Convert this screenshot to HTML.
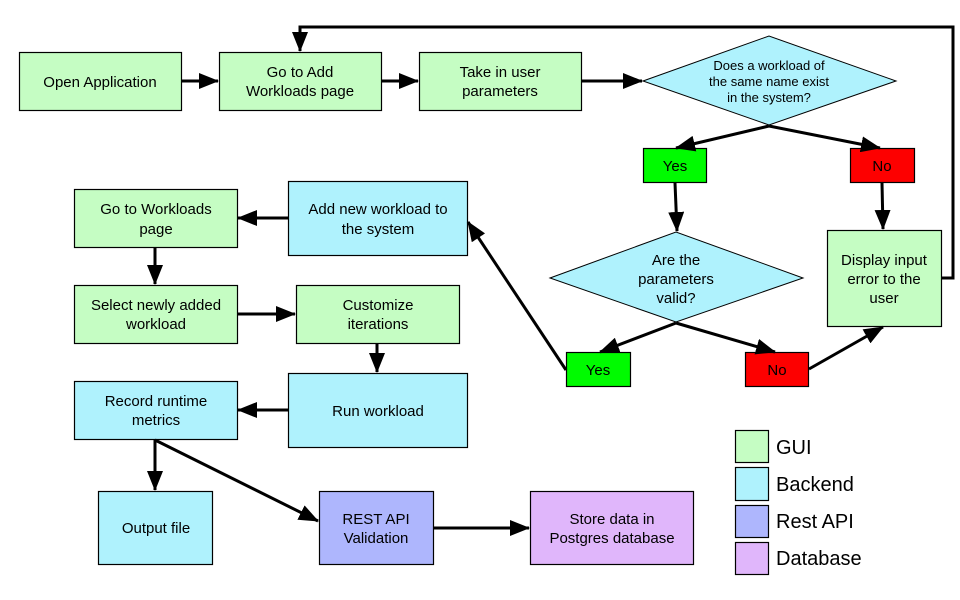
<!DOCTYPE html>
<html><head><meta charset="utf-8"><style>
html,body{margin:0;padding:0;background:#fff;width:960px;height:600px;overflow:hidden}
svg text{font-family:"Liberation Sans",Arial,sans-serif;fill:#000}
</style></head><body>
<svg width="960" height="600" viewBox="0 0 960 600" xmlns="http://www.w3.org/2000/svg">
<defs>
<marker id="b" markerWidth="20" markerHeight="16" refX="19" refY="8" orient="auto" markerUnits="userSpaceOnUse" viewBox="0 0 20 16">
<path d="M0,0 L20,8 L0,16 z" fill="#000"/></marker>
</defs>
<g stroke="#000" stroke-width="1.2">
<rect x="19.5" y="52.5" width="162" height="58" fill="#c5fdc3"/>
<rect x="219.5" y="52.5" width="162" height="58" fill="#c5fdc3"/>
<rect x="419.5" y="52.5" width="162" height="58" fill="#c5fdc3"/>
<polygon points="643,81 769,36 896,81 769,125" fill="#aff2fd" stroke-width="1"/>
<rect x="643.5" y="148.5" width="63" height="34" fill="#00fb00"/>
<rect x="850.5" y="148.5" width="64" height="34" fill="#fd0000"/>
<polygon points="550,278 676,232 803,278 676,322" fill="#aff2fd" stroke-width="1"/>
<rect x="827.5" y="230.5" width="114" height="96" fill="#c5fdc3"/>
<rect x="566.5" y="352.5" width="64" height="34" fill="#00fb00"/>
<rect x="745.5" y="352.5" width="63" height="34" fill="#fd0000"/>
<rect x="74.5" y="189.5" width="163" height="58" fill="#c5fdc3"/>
<rect x="288.5" y="181.5" width="179" height="74" fill="#aff2fd"/>
<rect x="74.5" y="285.5" width="163" height="58" fill="#c5fdc3"/>
<rect x="296.5" y="285.5" width="163" height="58" fill="#c5fdc3"/>
<rect x="288.5" y="373.5" width="179" height="74" fill="#aff2fd"/>
<rect x="74.5" y="381.5" width="163" height="58" fill="#aff2fd"/>
<rect x="98.5" y="491.5" width="114" height="73" fill="#aff2fd"/>
<rect x="319.5" y="491.5" width="114" height="73" fill="#aeb6fd"/>
<rect x="530.5" y="491.5" width="163" height="73" fill="#e0b6fb"/>
<rect x="735.5" y="430.5" width="33" height="32" fill="#c5fdc3"/>
<rect x="735.5" y="467.5" width="33" height="33" fill="#aff2fd"/>
<rect x="735.5" y="505.5" width="33" height="32" fill="#aeb6fd"/>
<rect x="735.5" y="542.5" width="33" height="32" fill="#e0b6fb"/>
</g>
<g stroke="#000" stroke-width="3" fill="none" marker-end="url(#b)">
<line x1="182" y1="81" x2="218" y2="81"/>
<line x1="382" y1="81" x2="418" y2="81"/>
<line x1="582" y1="81" x2="642" y2="81"/>
<line x1="769" y1="126" x2="676" y2="148"/>
<line x1="769" y1="126" x2="880" y2="148"/>
<line x1="675" y1="183" x2="677" y2="231"/>
<line x1="882" y1="183" x2="883" y2="229"/>
<line x1="676" y1="323" x2="600" y2="352"/>
<line x1="676" y1="323" x2="775" y2="352"/>
<line x1="809" y1="369" x2="883" y2="327"/>
<polyline points="942,278 953,278 953,27 300,27 300,51"/>
<line x1="566" y1="370" x2="468" y2="222"/>
<line x1="288" y1="218" x2="238" y2="218"/>
<line x1="155" y1="248" x2="155" y2="284"/>
<line x1="238" y1="314" x2="295" y2="314"/>
<line x1="377" y1="344" x2="377" y2="372"/>
<line x1="288" y1="410" x2="238" y2="410"/>
<line x1="155" y1="440" x2="155" y2="490"/>
<line x1="155" y1="440" x2="318" y2="521"/>
<line x1="434" y1="528" x2="529" y2="528"/>
</g>
<g font-size="15" text-anchor="middle">
<text x="100" y="87">Open Application</text>
<text x="300" y="77">Go to Add</text><text x="300" y="96">Workloads page</text>
<text x="500" y="77">Take in user</text><text x="500" y="96">parameters</text>
<text x="769" y="70" font-size="13">Does a workload of</text>
<text x="769" y="86" font-size="13">the same name exist</text>
<text x="769" y="102" font-size="13">in the system?</text>
<text x="675" y="171">Yes</text>
<text x="882" y="171">No</text>
<text x="676" y="265">Are the</text><text x="676" y="284">parameters</text><text x="676" y="303">valid?</text>
<text x="884" y="265">Display input</text><text x="884" y="284">error to the</text><text x="884" y="303">user</text>
<text x="598" y="375">Yes</text>
<text x="777" y="375">No</text>
<text x="156" y="214">Go to Workloads</text><text x="156" y="234">page</text>
<text x="378" y="214">Add new workload to</text><text x="378" y="234">the system</text>
<text x="156" y="310">Select newly added</text><text x="156" y="329">workload</text>
<text x="378" y="310">Customize</text><text x="378" y="329">iterations</text>
<text x="378" y="416">Run workload</text>
<text x="156" y="406">Record runtime</text><text x="156" y="425">metrics</text>
<text x="156" y="533">Output file</text>
<text x="376" y="524">REST API</text><text x="376" y="543">Validation</text>
<text x="612" y="524">Store data in</text><text x="612" y="543">Postgres database</text>
</g>
<g font-size="20">
<text x="776" y="454">GUI</text>
<text x="776" y="491">Backend</text>
<text x="776" y="528">Rest API</text>
<text x="776" y="565">Database</text>
</g>
</svg>
</body></html>
